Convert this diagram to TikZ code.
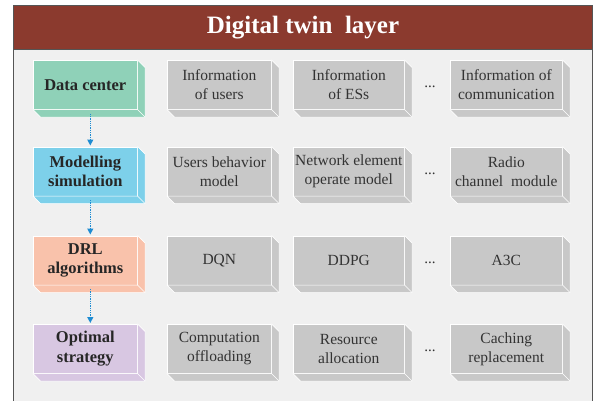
\documentclass[tikz,border=0pt]{standalone}
\usepackage{fontspec}
\setmainfont{Liberation Serif}
\usetikzlibrary{arrows.meta}
\definecolor{bandred}{HTML}{8B3A2E}
\definecolor{panel}{HTML}{F0F0F0}
\definecolor{framegray}{HTML}{555555}
\definecolor{cgreen}{HTML}{8FD1B8}
\definecolor{cblue}{HTML}{7DD0EA}
\definecolor{csalmon}{HTML}{F9C2AB}
\definecolor{clav}{HTML}{D8C7E2}
\definecolor{cgrey}{HTML}{C8C8C8}
\definecolor{arrowblue}{HTML}{1E8CD2}
\tikzset{
  cubebox/.style={draw=white, line width=0.6pt, minimum height=49pt, inner sep=0pt, align=center, anchor=north west},
  leftbox/.style={cubebox, minimum width=104pt, font=\fontsize{16.5}{19.5}\selectfont\bfseries, text=black!85},
  greybox/.style={cubebox, fill=cgrey, font=\fontsize{15.5}{19}\selectfont, text=black!80},
  flowarrow/.style={arrowblue, densely dotted, line width=1.3pt, -{Triangle[length=6pt,width=6pt]}},
  dotslabel/.style={font=\fontsize{15}{18}\selectfont, text=black!80}
}
\newcommand{\cubeside}[2]{%
  \path[fill=#2, draw=white, line width=0.6pt, line join=round]
    (#1.north east) -- ([shift={(7.5pt,-7.5pt)}]#1.north east)
    -- ([shift={(7.5pt,-7.5pt)}]#1.south east)
    -- ([shift={(7.5pt,-7.5pt)}]#1.south west)
    -- (#1.south west) -- (#1.south east) -- cycle;
  \draw[white, line width=0.6pt] (#1.south east) -- ([shift={(7.5pt,-7.5pt)}]#1.south east);}
\begin{document}
\begin{tikzpicture}[x=1pt,y=-1pt]
\useasboundingbox (0,0) rectangle (594,400);
\fill[white] (0,0) rectangle (594,400);
\draw[framegray, fill=panel, line width=1pt] (13,5) rectangle (592,410);
\node[draw=framegray, line width=1pt, fill=bandred, minimum width=579pt, minimum height=44pt, anchor=north west, inner sep=0pt,
      font=\fontsize{25}{28}\selectfont\bfseries, text=white] (title) at (13,5) {Digital twin\ \ layer};

% left column
\node[leftbox, fill=cgreen]   (dc)  at (33,60)    {Data center};
\node[leftbox, fill=cblue]    (ms)  at (33,146.5) {Modelling\\simulation};
\node[leftbox, fill=csalmon]  (drl) at (33,235.5) {DRL\\algorithms};
\node[leftbox, fill=clav]     (os)  at (33,324)   {Optimal\\strategy};
\cubeside{dc}{cgreen}
\cubeside{ms}{cblue}
\cubeside{drl}{csalmon}
\cubeside{os}{clav}

% grey boxes
\foreach \r/\y/\a/\b/\c in {
  1/60/{Information\\of users}/{Information\\of ESs}/{Information of\\communication},
  2/146.5/{Users behavior\\model}/{Network element\\operate model}/{Radio\\channel\ \ module},
  3/235.5/{DQN}/{DDPG}/{A3C},
  4/324/{Computation\\offloading}/{Resource\\allocation}/{Caching\\replacement}}{
  \node[greybox, minimum width=104pt] (g\r a) at (167,\y) {\a};
  \node[greybox, minimum width=111pt] (g\r b) at (293,\y) {\b};
  \node[greybox, minimum width=112pt] (g\r c) at (450,\y) {\c};
  \cubeside{g\r a}{cgrey}
  \cubeside{g\r b}{cgrey}
  \cubeside{g\r c}{cgrey}
  \node[dotslabel] (d\r) at (430,\y+27) {...};
}

% arrows
\draw[flowarrow] ([xshift=5pt,yshift=-4pt]dc.south) -- ([xshift=5pt,yshift=1pt]ms.north);
\draw[flowarrow] ([xshift=5pt,yshift=-4pt]ms.south) -- ([xshift=5pt,yshift=1pt]drl.north);
\draw[flowarrow] ([xshift=5pt,yshift=-4pt]drl.south) -- ([xshift=5pt,yshift=1pt]os.north);
\end{tikzpicture}
\end{document}
